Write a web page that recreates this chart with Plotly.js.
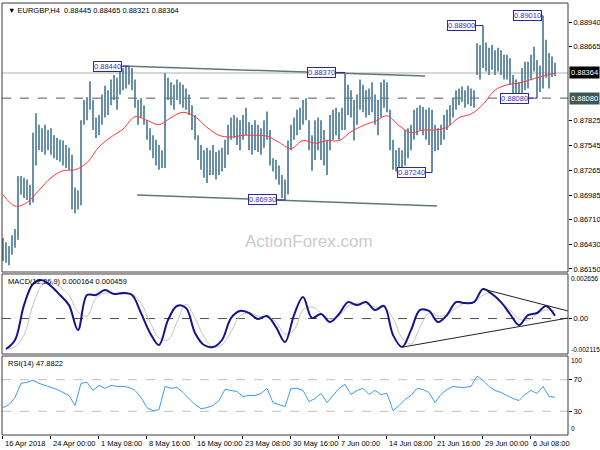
<!DOCTYPE html>
<html><head><meta charset="utf-8">
<script src="https://cdn.plot.ly/plotly-3.0.1.min.js"></script>
<style>body{margin:0;background:#fff}#chart{width:600px;height:450px}</style>
</head><body><div id="chart"></div>
<script>
// ---------- DATA ----------
const symbol = 'EURGBP,H4';
const lastOHLC = ['0.88445', '0.88465', '0.88321', '0.88364'];

// H4 bars (each entry = 2 H4 bars), high / low
const highs = [
0.8650,0.8645,0.8641,0.8653,0.8660,0.8720,0.8720,0.8718,0.8716,0.8710,
0.8769,0.8791,0.8778,0.8774,0.8778,0.8772,0.8774,0.8766,0.8763,0.8761,
0.8760,0.8755,0.8752,0.8744,0.8707,0.8704,0.8783,0.8806,0.8809,0.8827,
0.8806,0.8786,0.8789,0.8812,0.8822,0.8817,0.8829,0.8834,0.8831,0.8840,
0.8842,0.8844,0.8844,0.8842,0.8829,0.8806,0.8808,0.8800,0.8783,0.8774,
0.8766,0.8761,0.8755,0.8749,0.8836,0.8831,0.8826,0.8823,0.8829,0.8826,
0.8823,0.8819,0.8812,0.8800,0.8789,0.8766,0.8755,0.8749,0.8752,0.8749,
0.8755,0.8747,0.8749,0.8752,0.8761,0.8778,0.8786,0.8789,0.8786,0.8783,
0.8789,0.8797,0.8781,0.8778,0.8783,0.8778,0.8774,0.8783,0.8793,0.8772,
0.8740,0.8738,0.8732,0.8721,0.8716,0.8760,0.8778,0.8786,0.8795,0.8797,
0.8806,0.8808,0.8783,0.8766,0.8783,0.8786,0.8783,0.8772,0.8761,0.8789,
0.8795,0.8797,0.8792,0.8797,0.8837,0.8823,0.8817,0.8806,0.8812,0.8829,
0.8823,0.8817,0.8819,0.8826,0.8812,0.8806,0.8826,0.8829,0.8826,0.8795,
0.8761,0.8749,0.8752,0.8749,0.8772,0.8774,0.8778,0.8795,0.8797,0.8800,
0.8798,0.8795,0.8797,0.8795,0.8778,0.8774,0.8778,0.8789,0.8795,0.8800,
0.8808,0.8817,0.8819,0.8821,0.8817,0.8822,0.8819,0.8817,0.8870,0.8868,
0.8890,0.8871,0.8865,0.8868,0.8862,0.8865,0.8862,0.8857,0.8857,0.8853,
0.8834,0.8829,0.8826,0.8842,0.8849,0.8849,0.8857,0.8866,0.8851,0.8845,
0.8901,0.8874,0.8859,0.8855,0.8848];
const lows = [
0.8624,0.8622,0.8619,0.8631,0.8639,0.8648,0.8699,0.8695,0.8693,0.8687,
0.8690,0.8732,0.8749,0.8747,0.8744,0.8749,0.8744,0.8740,0.8738,0.8736,
0.8732,0.8729,0.8727,0.8682,0.8678,0.8682,0.8687,0.8778,0.8783,0.8795,
0.8772,0.8763,0.8766,0.8778,0.8786,0.8789,0.8800,0.8806,0.8795,0.8812,
0.8817,0.8819,0.8823,0.8817,0.8797,0.8778,0.8786,0.8778,0.8761,0.8749,
0.8740,0.8732,0.8727,0.8729,0.8729,0.8806,0.8800,0.8795,0.8806,0.8801,
0.8797,0.8795,0.8789,0.8772,0.8761,0.8738,0.8727,0.8718,0.8712,0.8721,
0.8721,0.8716,0.8721,0.8725,0.8729,0.8744,0.8761,0.8763,0.8755,0.8749,
0.8761,0.8766,0.8749,0.8744,0.8749,0.8747,0.8744,0.8752,0.8761,0.8732,
0.8725,0.8716,0.8710,0.8695,0.8693,0.8699,0.8749,0.8761,0.8766,0.8772,
0.8778,0.8783,0.8749,0.8726,0.8738,0.8749,0.8738,0.8732,0.8721,0.8749,
0.8761,0.8766,0.8761,0.8772,0.8772,0.8789,0.8786,0.8760,0.8778,0.8795,
0.8792,0.8786,0.8789,0.8792,0.8778,0.8766,0.8786,0.8797,0.8792,0.8749,
0.8727,0.8725,0.8726,0.8727,0.8732,0.8740,0.8749,0.8761,0.8766,0.8772,
0.8766,0.8761,0.8755,0.8724,0.8748,0.8749,0.8755,0.8761,0.8772,0.8778,
0.8786,0.8795,0.8800,0.8804,0.8797,0.8801,0.8799,0.8797,0.8834,0.8829,
0.8842,0.8838,0.8834,0.8840,0.8834,0.8838,0.8834,0.8829,0.8829,0.8823,
0.8806,0.8806,0.8805,0.8812,0.8817,0.8819,0.8829,0.8838,0.8808,0.8815,
0.8819,0.8831,0.8819,0.8832,0.8833];

// moving average, one value every 4 entries
const maValues = [0.8699,0.8686,0.8690,0.8704,0.8718,0.8726,0.8727,0.8735,0.8753,0.8764,
0.8773,0.8787,0.8783,0.8778,0.8786,0.8792,0.8787,0.8775,0.8766,0.8764,
0.8766,0.8766,0.8765,0.8758,0.8751,0.8760,0.8757,0.8760,0.8760,0.8770,
0.8777,0.8782,0.8788,0.8777,0.8769,0.8772,0.8772,0.8775,0.8786,0.8790,
0.8801,0.8817,0.8823,0.8825,0.8829,0.8833,0.8836];

// MACD(12,26,9), one value every 3 entries starting at entry 1
const macdMain = [-0.00182,-0.00128,0.00080,0.00206,0.00229,0.00194,0.00140,0.00080,-0.00069,0.00140,
0.00140,0.00170,0.00146,0.00152,0.00140,0.00033,-0.00086,-0.00158,-0.00009,0.00075,
0.00063,-0.00086,-0.00158,-0.00170,-0.00128,0.00003,0.00045,0.00033,-0.00003,0.00015,
-0.00051,-0.00140,0.00021,0.00128,0.00003,0.00027,-0.00021,0.00027,0.00098,0.00080,
0.00098,0.00051,0.00075,-0.00098,-0.00170,-0.00069,0.00051,0.00045,-0.00021,0.00021,
0.00098,0.00092,0.00098,0.00176,0.00146,0.00098,0.00027,-0.00039,0.00021,0.00033,
0.00075,0.00016];
const macdSignal = [-0.00182,-0.00170,-0.00098,0.00080,0.00200,0.00218,0.00188,0.00140,0.00039,0.00015,
0.00122,0.00152,0.00146,0.00146,0.00146,0.00092,-0.00021,-0.00116,-0.00128,-0.00021,
0.00086,0.00003,-0.00110,-0.00170,-0.00158,-0.00080,0.00015,0.00033,0.00015,0.00009,
-0.00021,-0.00092,-0.00069,0.00051,0.00069,0.00033,-0.00003,0.00015,0.00075,0.00092,
0.00086,0.00069,0.00063,0.00003,-0.00116,-0.00152,-0.00051,0.00033,0.00015,0.00021,
0.00063,0.00092,0.00098,0.00140,0.00152,0.00098,0.00051,-0.00003,-0.00009,0.00027,
0.00051,0.00046];
const macdText = 'MACD(12,26,9) 0.000164 0.000459';

// RSI(14), one value every 2 entries
const rsiValues = [34.6,38.5,47.4,65.4,66.7,69.2,65.4,62.8,60.3,57.7,
53.8,50.0,37.2,65.4,66.7,56.4,62.8,59.0,62.8,61.5,
61.5,60.3,56.4,47.4,34.6,30.8,32.1,61.5,59.0,60.3,
53.8,46.2,38.5,33.3,34.6,37.2,43.6,57.7,56.4,55.1,
48.7,50.0,50.0,52.6,59.0,41.0,38.5,35.9,59.0,59.0,
56.4,42.3,46.2,52.6,41.0,50.0,59.0,64.1,51.3,56.4,
59.0,51.3,56.4,51.3,52.6,30.8,37.2,44.9,50.0,59.0,
57.7,53.8,41.0,51.3,57.7,61.5,60.3,60.3,61.5,74.4,
69.2,61.5,56.4,53.8,50.0,46.2,43.6,51.3,56.4,52.6,
61.5,48.7,47.9];
const rsiText = 'RSI(14) 47.8822';

const dateLabels = ['16 Apr 2018','24 Apr 00:00','1 May 08:00','8 May 16:00','16 May 00:00','23 May 08:00',
'30 May 16:00','7 Jun 00:00','14 Jun 08:00','21 Jun 16:00','29 Jun 00:00','6 Jul 08:00'];

const priceTicks = [0.88940,0.88665,0.87825,0.87545,0.87265,0.86985,0.86710,0.86430,0.86150];
const currentPrice = 0.88364;
const supportLevel = 0.88080;

// swing labels
const pivotBars   = [42, 114, 160, 180, 178, 143, 94];
const pivotPrices = [0.88440, 0.88370, 0.88900, 0.89010, 0.88080, 0.87240, 0.86930];

// trend lines
const upperTrendBars = [40, 140.7];   const upperTrendPrices = [0.88443, 0.88330];
const lowerTrendBars = [44.7, 144.7]; const lowerTrendPrices = [0.86986, 0.86861];
const macdLowBars = [133.3, 188.3];   const macdLowVals = [-0.00170, 0.00003];
const macdHighBars = [160, 188.3];    const macdHighVals = [0.00176, 0.00045];

// ---------- DRAW ----------
const FONT = 'Liberation Sans, Arial, sans-serif';
const idx = highs.map((_, i) => i);
const traces = [];

traces.push({type:'bar', x: idx, base: lows, y: highs.map((h,i)=>h-lows[i]),
  width: 0.58, marker:{color:'#52819d', line:{width:0}}, xaxis:'x', yaxis:'y', hoverinfo:'skip'});
traces.push({type:'scatter', mode:'lines', x: maValues.map((_,j)=>4*j), y: maValues,
  line:{color:'#ff3b3b', width:1, shape:'spline'}, xaxis:'x', yaxis:'y', hoverinfo:'skip'});
traces.push({type:'scatter', mode:'lines', x: upperTrendBars, y: upperTrendPrices,
  line:{color:'#5d7878', width:1.5}, xaxis:'x', yaxis:'y'});
traces.push({type:'scatter', mode:'lines', x: lowerTrendBars, y: lowerTrendPrices,
  line:{color:'#5d7878', width:1.5}, xaxis:'x', yaxis:'y'});

traces.push({type:'scatter', mode:'lines', x: macdSignal.map((_,j)=>1+3*j), y: macdSignal,
  line:{color:'#c4c4c4', width:1, shape:'spline'}, xaxis:'x', yaxis:'y2'});
traces.push({type:'scatter', mode:'lines', x: macdMain.map((_,j)=>1+3*j), y: macdMain,
  line:{color:'#14148c', width:2, shape:'spline'}, xaxis:'x', yaxis:'y2'});
traces.push({type:'scatter', mode:'lines', x: macdLowBars, y: macdLowVals,
  line:{color:'#222', width:1}, xaxis:'x', yaxis:'y2'});
traces.push({type:'scatter', mode:'lines', x: macdHighBars, y: macdHighVals,
  line:{color:'#222', width:1}, xaxis:'x', yaxis:'y2'});

traces.push({type:'scatter', mode:'lines', x: rsiValues.map((_,j)=>2*j), y: rsiValues,
  line:{color:'#3d9cf5', width:1}, xaxis:'x', yaxis:'y3'});

const mainDom = [0.3773, 1], macdDom = [0.1875, 0.3727], rsiDom = [0, 0.1829];

const shapes = [
  {type:'line', xref:'paper', x0:0, x1:1, yref:'y', y0:currentPrice, y1:currentPrice, line:{color:'#cacaca', width:1.5}, layer:'below'},
  {type:'line', xref:'paper', x0:0, x1:1, yref:'y', y0:supportLevel, y1:supportLevel, line:{color:'#505a5a', width:1, dash:'dash'}, layer:'below'},
  {type:'line', xref:'paper', x0:0, x1:1, yref:'y2', y0:0, y1:0, line:{color:'#505050', width:1, dash:'dash'}, layer:'below'},
  {type:'line', xref:'paper', x0:0, x1:1, yref:'y3', y0:70, y1:70, line:{color:'#c0c0c0', width:1, dash:'dash'}, layer:'below'},
  {type:'line', xref:'paper', x0:0, x1:1, yref:'y3', y0:30, y1:30, line:{color:'#c0c0c0', width:1, dash:'dash'}, layer:'below'},
];
[mainDom, macdDom, rsiDom].forEach(d => shapes.push({type:'rect', xref:'paper', yref:'paper',
  x0:0, x1:1, y0:d[0], y1:d[1], line:{color:'#3a3a3a', width:1}, fillcolor:'rgba(0,0,0,0)'}));

const annotations = [];
const pivotGap = [7, 9, 7, 1, 8, 6, 8];
pivotBars.forEach((b, i) => {
  const p = pivotPrices[i];
  shapes.push({type:'line', xref:'x', yref:'y', x0:b - pivotGap[i]/3, x1:b, y0:p, y1:p, line:{color:'#2a2aa0', width:1}});
  annotations.push({xref:'x', yref:'y', x:b, y:p, xanchor:'right', yanchor:'middle', xshift:-pivotGap[i],
    text:p.toFixed(5), showarrow:false, font:{family:FONT, size:7.5, color:'#3434b4'},
    bgcolor:'#ffffff', bordercolor:'#2a2aa0', borderwidth:1, borderpad:0});
});

annotations.push({xref:'paper', yref:'paper', x:0, y:1, xanchor:'left', yanchor:'top', xshift:4, yshift:-1,
  text:'▼ ' + symbol + '  ' + lastOHLC.join(' '), showarrow:false, font:{family:FONT, size:7.5, color:'#000'}});
annotations.push({xref:'paper', yref:'paper', x:0, y:macdDom[1], xanchor:'left', yanchor:'top', xshift:4, yshift:-1,
  text:macdText, showarrow:false, font:{family:FONT, size:7.5, color:'#000'}});
annotations.push({xref:'paper', yref:'paper', x:0, y:rsiDom[1], xanchor:'left', yanchor:'top', xshift:4, yshift:-1,
  text:rsiText, showarrow:false, font:{family:FONT, size:7.5, color:'#000'}});

annotations.push({xref:'paper', yref:'paper', x:0.5424, y:0.4468, text:'ActionForex.com', showarrow:false,
  font:{family:FONT, size:17, color:'#cbcbcb'}});

annotations.push({xref:'paper', yref:'y', x:1, y:currentPrice, xanchor:'left', xshift:1, text:currentPrice.toFixed(5),
  showarrow:false, bgcolor:'#000', font:{family:FONT, size:7.5, color:'#fff'}, borderpad:1});
annotations.push({xref:'paper', yref:'y', x:1, y:supportLevel, xanchor:'left', xshift:1, text:supportLevel.toFixed(5),
  showarrow:false, bgcolor:'#3d5858', font:{family:FONT, size:7.5, color:'#fff'}, borderpad:1});

const edgeLabels = [['y2', 0.002656, '0.002656', -5], ['y2', -0.002115, '-0.002115', 5], ['y3', 100, '100', -5], ['y3', 0, '0', 6]];
edgeLabels.forEach(e => annotations.push({xref:'paper', yref:e[0], x:1, y:e[1], xanchor:'left', xshift:1, yshift:e[3],
  text:e[2], showarrow:false, font:{family:FONT, size:6.5, color:'#000'}}));

const dateTicks = dateLabels.map((_, j) => 16*j - 1/3);
dateLabels.forEach((t, j) => annotations.push({xref:'x', yref:'paper', x:dateTicks[j], y:0, xanchor:'left', yanchor:'top',
  xshift:1, yshift:-2, text:t, showarrow:false, font:{family:FONT, size:7.5, color:'#000'}}));

const yCommon = {side:'right', anchor:'x', showgrid:false, zeroline:false, ticks:'outside', ticklen:3, tickcolor:'#000',
  tickfont:{family:FONT, size:7.5, color:'#000'}, showline:false, fixedrange:true};

const layout = {
  width:600, height:450, margin:{l:2, r:32, t:3, b:15},
  paper_bgcolor:'#fff', plot_bgcolor:'#fff', showlegend:false, barmode:'overlay',
  font:{family:FONT, size:7.5, color:'#000'},
  xaxis:{domain:[0,1], range:[-1/3, 188.33], anchor:'y3', showgrid:false, zeroline:false,
    tickvals:dateTicks, ticktext:dateLabels.map(()=>''), ticks:'outside', ticklen:3, tickcolor:'#000', showline:false},
  yaxis:Object.assign({}, yCommon, {domain:mainDom, range:[0.86115, 0.89155], tickvals:priceTicks, ticktext:priceTicks.map(v=>v.toFixed(5))}),
  yaxis2:Object.assign({}, yCommon, {domain:macdDom, range:[-0.002115, 0.002656], tickvals:[0], ticktext:['0.00']}),
  yaxis3:Object.assign({}, yCommon, {domain:rsiDom, range:[0, 100], tickvals:[70, 30], ticktext:['70','30']}),
  shapes:shapes, annotations:annotations
};

Plotly.newPlot('chart', traces, layout, {staticPlot:true, displayModeBar:false});
</script>
</body></html>
